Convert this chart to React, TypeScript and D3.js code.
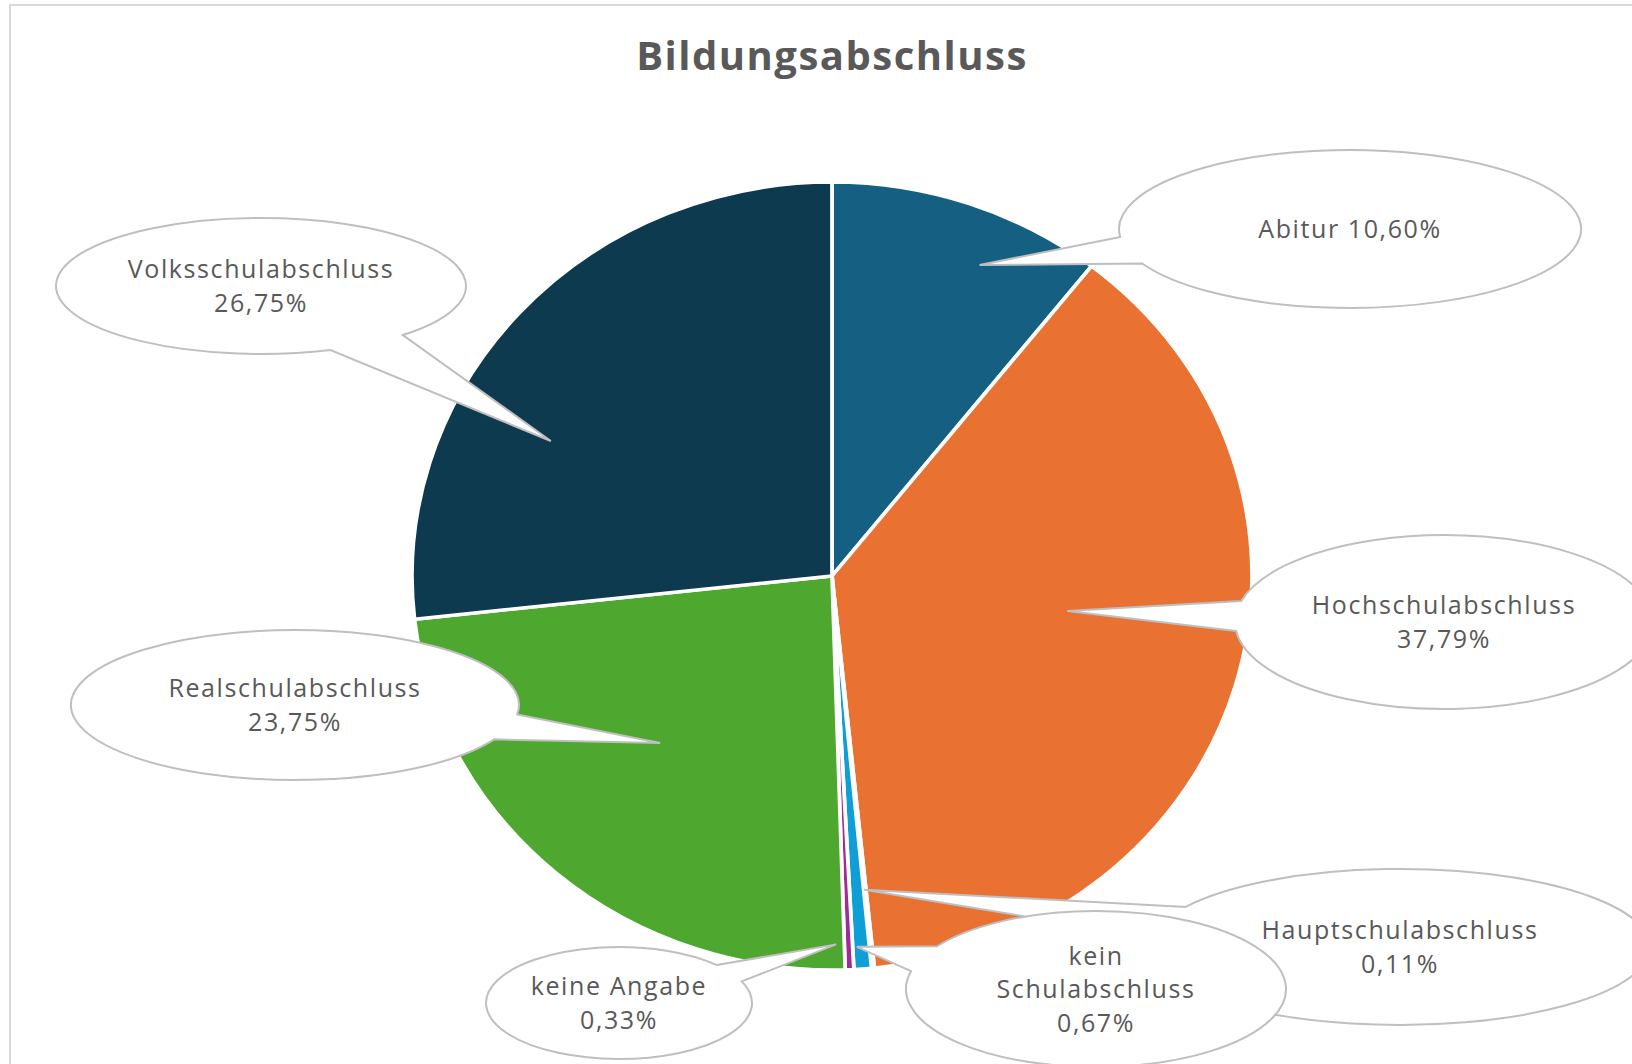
import * as d3 from 'd3';
import React from 'react';

// data
const categories = [
  'Abitur',
  'Hochschulabschluss',
  'Hauptschulabschluss',
  'kein Schulabschluss',
  'keine Angabe',
  'Realschulabschluss',
  'Volksschulabschluss',
];
const shares = [10.6, 37.79, 0.11, 0.67, 0.33, 23.75, 26.75];
const colors = ['#156082', '#E97132', '#196B24', '#0F9ED5', '#A02B93', '#4EA72E', '#0D3A4E'];
// how each label is broken into lines
const nameLines = [
  ['Abitur'],
  ['Hochschulabschluss'],
  ['Hauptschulabschluss'],
  ['kein', 'Schulabschluss'],
  ['keine Angabe'],
  ['Realschulabschluss'],
  ['Volksschulabschluss'],
];

// callout bubbles: ellipse + where the pointer touches the pie (deg, fraction of radius)
const callouts = [
  { cx: 1350, cy: 229, rx: 231, ry: 79, tipA: 24.0, tipR: 0.864, spread: 10, inline: true },
  { cx: 1444, cy: 622, rx: 209, ry: 87, tipA: 99.0, tipR: 0.567, spread: 10 },
  { cx: 1400, cy: 947, rx: 250, ry: 78, tipA: 174.5, tipR: 0.8, spread: 12 },
  { cx: 1096, cy: 989, rx: 190, ry: 78, tipA: 176.4, tipR: 0.943, spread: 10 },
  { cx: 619, cy: 1003, rx: 133, ry: 56, tipA: 179.4, tipR: 0.935, spread: 10 },
  { cx: 295, cy: 705, rx: 224, ry: 75, tipA: 224.0, tipR: 0.589, spread: 10 },
  { cx: 261, cy: 286, rx: 205, ry: 68, tipA: 297.1, tipR: 0.752, spread: 12 },
];

const width = 1632, height = 1064;
const cx = 832, cy = 576;
const radius = 394;
const stretch = 1.066;
const textColor = '#595959';
const font = '"Open Sans", sans-serif';

const fmt = (v: number) => d3.format('.2f')(v).replace('.', ',') + '%';

function bubblePath(c: any) {
  const a = (c.tipA * Math.PI) / 180;
  const r = c.tipR * radius;
  const tx = cx + stretch * r * Math.sin(a);
  const ty = cy - r * Math.cos(a);
  const phi = Math.atan2((ty - c.cy) / c.ry, (tx - c.cx) / c.rx);
  const d = (c.spread * Math.PI) / 180;
  const p1 = [c.cx + c.rx * Math.cos(phi - d), c.cy + c.ry * Math.sin(phi - d)];
  const p2 = [c.cx + c.rx * Math.cos(phi + d), c.cy + c.ry * Math.sin(phi + d)];
  return `M${p1[0]},${p1[1]}L${tx},${ty}L${p2[0]},${p2[1]}A${c.rx},${c.ry} 0 1 1 ${p1[0]},${p1[1]}Z`;
}

export default function App() {
  const arcs = d3.pie<number>().sort(null).value((d) => d)(shares);
  const arc = d3.arc<d3.PieArcDatum<number>>().innerRadius(0).outerRadius(radius);

  const lineH = 33.5;
  const fontSize = 25;

  return (
    <svg
      width={width}
      height={height}
      style={{ position: 'absolute', left: 0, top: 0, background: '#fff' }}
    >
      <rect x={10} y={5} width={1700} height={1100} fill="#fff" stroke="#d9d9d9" strokeWidth={2} />

      <text
        x={cx}
        y={70}
        textAnchor="middle"
        fontFamily={font}
        fontWeight="bold"
        fontSize={40}
        letterSpacing={1.5}
        fill={textColor}
      >
        Bildungsabschluss
      </text>

      <g transform={`translate(${cx},${cy}) scale(${stretch},1)`}>
        {arcs.map((a, i) => (
          <path key={i} d={arc(a) || ''} fill={colors[i]} stroke="#fff" strokeWidth={3.5} />
        ))}
      </g>

      {callouts.map((c, i) => {
        const lines = c.inline
          ? [...nameLines[i].slice(0, -1), nameLines[i][nameLines[i].length - 1] + ' ' + fmt(shares[i])]
          : [...nameLines[i], fmt(shares[i])];
        const y0 = c.cy - ((lines.length - 1) * lineH) / 2 + fontSize * 0.36;
        return (
          <g key={categories[i]}>
            <path d={bubblePath(c)} fill="#fff" stroke="#bfbfbf" strokeWidth={2} />
            {lines.map((t, j) => (
              <text
                key={j}
                x={c.cx}
                y={y0 + j * lineH}
                textAnchor="middle"
                fontFamily={font}
                fontSize={fontSize}
                letterSpacing={1.6}
                fill={textColor}
              >
                {t}
              </text>
            ))}
          </g>
        );
      })}
    </svg>
  );
}
